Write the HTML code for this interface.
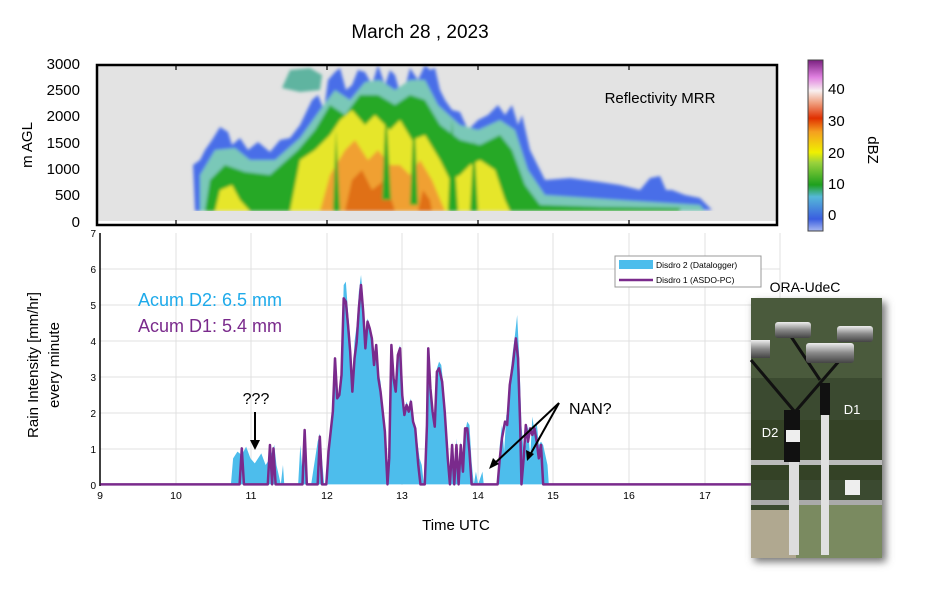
<!DOCTYPE html>
<html><head><meta charset="utf-8"><style>
body{margin:0;background:#fff;}
svg text{font-family:"Liberation Sans",sans-serif;}
</style></head><body>
<svg width="925" height="603" viewBox="0 0 925 603" xmlns="http://www.w3.org/2000/svg">
<defs>
<filter id="bl"><feGaussianBlur stdDeviation="1.6"/></filter>
<linearGradient id="cb" x1="0" y1="1" x2="0" y2="0">
<stop offset="0" stop-color="#a8b8f0"/><stop offset="0.07" stop-color="#3a5ee0"/>
<stop offset="0.2" stop-color="#55b8d8"/><stop offset="0.27" stop-color="#1ea01e"/>
<stop offset="0.4" stop-color="#9ad23c"/><stop offset="0.46" stop-color="#f0f000"/>
<stop offset="0.58" stop-color="#f5a020"/><stop offset="0.66" stop-color="#e03000"/>
<stop offset="0.75" stop-color="#f0a080"/><stop offset="0.82" stop-color="#f8f0f0"/>
<stop offset="0.9" stop-color="#e080e0"/><stop offset="1" stop-color="#7a2080"/>
</linearGradient>
<filter id="sh" x="-20%" y="-20%" width="140%" height="140%"><feGaussianBlur stdDeviation="4"/></filter>
<linearGradient id="metal" x1="0" y1="0" x2="0" y2="1"><stop offset="0" stop-color="#eee"/><stop offset="0.5" stop-color="#888"/><stop offset="1" stop-color="#444"/></linearGradient>
</defs>
<text x="420" y="38" font-size="19" text-anchor="middle">March 28 , 2023</text>

<!-- top panel -->
<rect x="97" y="65" width="680" height="157" fill="#e3e3e3"/>
<g filter="url(#bl)">
<polygon fill="#4a6ee8" points="195,211 193,165 200,160 205,150 212,140 220,127 228,132 232,145 240,138 248,150 258,142 270,152 280,140 290,138 300,125 312,100 318,95 324,110 328,80 335,72 340,68 346,90 352,85 358,70 365,72 372,85 378,65 385,85 390,70 395,75 402,100 410,68 418,80 425,65 430,70 435,68 440,90 445,100 452,110 460,112 468,130 478,120 488,115 498,105 505,115 512,105 518,125 522,115 530,150 535,160 545,180 570,178 600,182 620,185 640,190 650,178 660,176 666,190 672,190 685,195 700,198 712,210"/>
<polygon fill="#7ac8b8" points="200,211 200,175 215,150 235,148 250,160 275,160 300,138 320,110 335,90 350,100 365,82 380,80 395,90 410,80 425,80 438,105 460,125 478,130 500,120 515,130 528,170 545,195 620,200 700,205 705,211"/>
<polygon fill="#28a828" points="205,211 210,180 225,165 245,172 270,175 298,150 315,130 330,105 345,115 360,95 378,95 395,105 410,95 425,100 440,125 460,140 480,145 500,135 512,150 525,185 540,205 600,207 680,208 680,211"/>
<polygon fill="#e6e62a" points="215,211 220,190 232,185 240,200 250,211"/>
<polygon fill="#e6e62a" points="290,211 300,160 315,150 330,135 340,120 352,110 365,125 375,115 390,130 400,120 412,140 425,135 440,160 450,180 460,175 470,165 480,160 495,170 505,200 510,211"/>
<polygon fill="#f0a030" points="320,211 330,175 345,150 355,140 368,160 378,150 390,165 400,165 410,175 420,160 432,180 445,211"/>
<polygon fill="#e07018" points="345,211 352,180 362,170 372,190 385,180 395,211"/>
<polygon fill="#e07018" points="418,211 423,190 430,200 432,211"/>
<polygon fill="#28a828" points="333,211 336,130 340,211"/>
<polygon fill="#28a828" points="382,200 386,105 391,200"/>
<polygon fill="#28a828" points="410,205 414,110 418,205"/>
<polygon fill="#28a828" points="448,211 452,120 458,211"/>
<polygon fill="#28a828" points="470,211 474,140 478,211"/>
<polygon fill="#5fb4a0" points="282,88 290,70 310,68 322,75 320,90 300,92"/>
</g>
<rect x="97" y="211" width="680" height="11" fill="#e3e3e3"/>
<rect x="97" y="221" width="680" height="4" fill="#fff"/>
<rect x="97" y="65" width="680" height="160" fill="none" stroke="#000" stroke-width="2.5"/>
<g stroke="#000" stroke-width="1.2">
<line x1="176" y1="65" x2="176" y2="70"/><line x1="327" y1="65" x2="327" y2="70"/><line x1="478" y1="65" x2="478" y2="70"/><line x1="629" y1="65" x2="629" y2="70"/>
<line x1="176" y1="225" x2="176" y2="220"/><line x1="327" y1="225" x2="327" y2="220"/><line x1="478" y1="225" x2="478" y2="220"/><line x1="629" y1="225" x2="629" y2="220"/>
</g>
<g font-size="15" text-anchor="end">
<text x="80" y="69">3000</text><text x="80" y="95">2500</text><text x="80" y="121">2000</text><text x="80" y="148">1500</text><text x="80" y="174">1000</text><text x="80" y="200">500</text><text x="80" y="227">0</text>
</g>
<text transform="translate(32,145) rotate(-90)" font-size="15" text-anchor="middle">m AGL</text>
<text x="660" y="103" font-size="15" text-anchor="middle">Reflectivity MRR</text>
<rect x="808" y="60" width="15" height="171" fill="url(#cb)" stroke="#444" stroke-width="1"/>
<g font-size="15">
<text x="828" y="94">40</text><text x="828" y="126">30</text><text x="828" y="158">20</text><text x="828" y="189">10</text><text x="828" y="220">0</text>
</g>
<text transform="translate(868,150) rotate(90)" font-size="15" text-anchor="middle">dBZ</text>

<!-- bottom chart -->
<g stroke="#e0e0e0" stroke-width="1">
<line x1="176" y1="233" x2="176" y2="485"/><line x1="251" y1="233" x2="251" y2="485"/><line x1="327" y1="233" x2="327" y2="485"/><line x1="402" y1="233" x2="402" y2="485"/><line x1="478" y1="233" x2="478" y2="485"/><line x1="553" y1="233" x2="553" y2="485"/><line x1="629" y1="233" x2="629" y2="485"/><line x1="705" y1="233" x2="705" y2="485"/><line x1="780" y1="233" x2="780" y2="485"/>
<line x1="100" y1="269" x2="780" y2="269"/><line x1="100" y1="305" x2="780" y2="305"/><line x1="100" y1="341" x2="780" y2="341"/><line x1="100" y1="377" x2="780" y2="377"/><line x1="100" y1="413" x2="780" y2="413"/><line x1="100" y1="449" x2="780" y2="449"/>
</g>
<line x1="100" y1="233" x2="100" y2="486" stroke="#000" stroke-width="1.5"/>
<g transform="translate(90,225) scale(0.43365,0.33333)">
<polygon fill="#4dbdec" points="325,778 330,700 340,680 350,690 360,665 370,700 380,715 395,685 405,720 415,700 425,660 430,720 440,778 445,720 448,778 480,778 485,660 492,778 495,610 502,778 510,778 525,650 530,625 540,778 548,778 550,660 555,630 560,560 565,400 570,520 575,500 580,440 585,180 590,170 595,260 600,340 605,480 610,350 615,300 620,200 625,150 630,230 635,350 640,280 645,300 650,330 655,410 660,360 665,440 670,470 680,620 686,778 690,700 695,360 700,460 705,500 710,380 715,360 720,500 725,560 730,530 735,550 740,520 745,580 750,600 755,650 760,700 765,720 770,778 775,600 780,370 785,480 790,550 795,600 800,430 805,410 810,420 815,480 820,560 825,700 830,778 835,650 840,778 845,640 850,778 855,650 860,720 865,620 870,590 875,600 880,710 885,778 890,740 895,778 905,740 908,778 940,778 945,660 950,600 955,680 960,570 965,560 970,440 975,380 980,330 985,270 990,400 995,600 1000,680 1005,660 1010,600 1015,700 1020,575 1025,620 1030,590 1035,660 1040,650 1045,660 1050,690 1055,720 1058,778"/>
<polyline fill="none" stroke="#7a2a8c" stroke-width="2.5" vector-effect="non-scaling-stroke" stroke-linejoin="round" points="24,778 345,778 350,670 355,778 410,778 415,660 420,778 423,670 428,778 490,778 495,615 500,778 525,778 530,635 535,778 545,778 550,680 560,560 565,400 570,520 575,510 580,450 585,220 590,230 595,300 600,380 605,500 610,400 615,350 620,250 625,180 630,260 635,370 640,290 645,310 650,340 655,420 660,360 665,460 670,500 680,620 686,778 690,700 695,360 700,460 705,500 710,390 715,370 720,510 725,570 730,540 735,560 740,530 745,590 750,610 757,720 762,778 772,778 777,600 780,370 785,490 790,560 795,605 800,440 805,430 812,470 818,560 825,700 830,778 835,660 840,778 845,660 850,778 855,660 860,740 865,610 870,610 875,680 880,778 940,778 945,700 950,640 957,590 962,600 968,480 975,420 982,340 987,400 992,600 995,778 1000,700 1005,600 1010,650 1015,610 1020,630 1025,610 1030,650 1035,700 1040,660 1045,778 1600,778"/>
</g>
<g font-size="10" text-anchor="end">
<text x="96" y="237">7</text><text x="96" y="273">6</text><text x="96" y="309">5</text><text x="96" y="345">4</text><text x="96" y="381">3</text><text x="96" y="417">2</text><text x="96" y="453">1</text><text x="96" y="489">0</text>
</g>
<g font-size="10.5" text-anchor="middle">
<text x="100" y="499">9</text><text x="176" y="499">10</text><text x="251" y="499">11</text><text x="327" y="499">12</text><text x="402" y="499">13</text><text x="478" y="499">14</text><text x="553" y="499">15</text><text x="629" y="499">16</text><text x="705" y="499">17</text>
</g>
<text x="456" y="530" font-size="15" text-anchor="middle">Time  UTC</text>
<text transform="translate(38,365) rotate(-90)" font-size="15" text-anchor="middle">Rain Intensity [mm/hr]</text>
<text transform="translate(59,365) rotate(-90)" font-size="15" text-anchor="middle">every minute</text>
<text x="138" y="306" font-size="18" fill="#1eaaea">Acum D2: 6.5 mm</text>
<text x="138" y="332" font-size="18" fill="#7a2a8c">Acum D1: 5.4 mm</text>
<text x="256" y="404" font-size="16" text-anchor="middle">???</text>
<line x1="255" y1="412" x2="255" y2="444" stroke="#000" stroke-width="2"/>
<polygon points="250,440 260,440 255,450"/>
<text x="569" y="414" font-size="16">NAN?</text>
<line x1="559" y1="403" x2="494" y2="464" stroke="#000" stroke-width="2"/>
<polygon points="489,469 493,458 499,464"/>
<line x1="559" y1="403" x2="530" y2="455" stroke="#000" stroke-width="2"/>
<polygon points="527,461 526,450 534,454"/>
<!-- legend -->
<rect x="615" y="256" width="146" height="31" fill="#fff" stroke="#999"/>
<rect x="619" y="260" width="34" height="9" fill="#4dbdec"/>
<line x1="619" y1="280" x2="653" y2="280" stroke="#7a2a8c" stroke-width="2.5"/>
<text x="656" y="268" font-size="8.5">Disdro 2 (Datalogger)</text>
<text x="656" y="283" font-size="8.5">Disdro 1 (ASDO-PC)</text>
<!-- photo -->
<text x="805" y="292" font-size="14" text-anchor="middle">ORA-UdeC</text>
<rect x="754" y="302" width="132" height="260" fill="#777" filter="url(#sh)"/>
<rect x="751" y="298" width="131" height="260" fill="#3b4a30"/>
<rect x="751" y="298" width="131" height="80" fill="#4a5a3c"/>
<rect x="751" y="420" width="131" height="60" fill="#344226"/>
<rect x="751" y="510" width="45" height="48" fill="#b0a890"/>
<rect x="796" y="500" width="86" height="58" fill="#7a8a60"/>
<rect x="751" y="460" width="131" height="5" fill="#bbb"/>
<rect x="751" y="500" width="131" height="5" fill="#aaa"/>
<line x1="751" y1="360" x2="795" y2="412" stroke="#111" stroke-width="3"/>
<line x1="790" y1="335" x2="820" y2="380" stroke="#111" stroke-width="3"/>
<line x1="795" y1="412" x2="840" y2="360" stroke="#111" stroke-width="3"/>
<rect x="784" y="410" width="16" height="52" fill="#111"/>
<rect x="789" y="462" width="10" height="93" fill="#ddd"/>
<rect x="786" y="430" width="14" height="12" fill="#eee"/>
<rect x="820" y="383" width="10" height="32" fill="#111"/>
<rect x="821" y="415" width="8" height="140" fill="#e0e0e0"/>
<rect x="775" y="322" width="36" height="16" rx="3" fill="url(#metal)"/>
<rect x="837" y="326" width="36" height="16" rx="3" fill="url(#metal)"/>
<rect x="806" y="343" width="48" height="20" rx="3" fill="url(#metal)"/>
<rect x="751" y="340" width="19" height="18" fill="url(#metal)"/>
<rect x="845" y="480" width="15" height="15" fill="#eee"/>
<text x="770" y="437" font-size="13" fill="#fff" text-anchor="middle">D2</text>
<text x="852" y="414" font-size="13" fill="#fff" text-anchor="middle">D1</text>
</svg>
</body></html>
